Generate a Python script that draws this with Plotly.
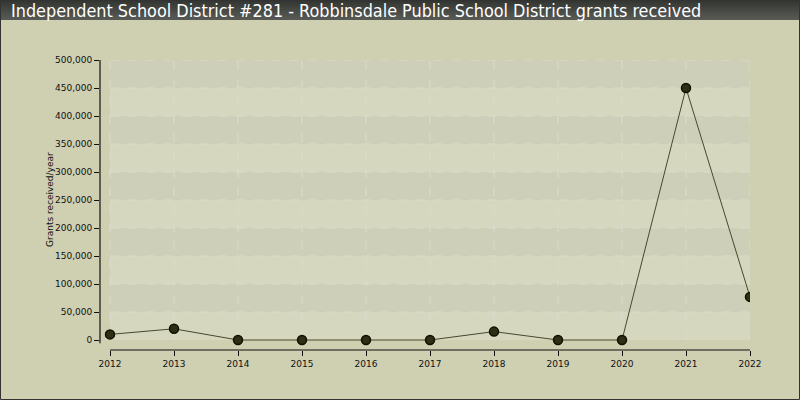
import plotly.graph_objects as go

years = [2012, 2013, 2014, 2015, 2016, 2017, 2018, 2019, 2020, 2021, 2022]
grants = [10000, 20000, 0, 0, 0, 0, 15000, 0, 0, 450000, 77000]
y_ticks = list(range(0, 500001, 50000))

title_text = "Independent School District #281 - Robbinsdale Public School District grants received"
y_title = "Grants received/year"

W, H = 800, 400
ML, MR, MT, MB = 100, 50, 60, 50
PW, PH = W - ML - MR, H - MT - MB

def px_x(px):
    return (px - ML) / PW

def px_y(py):
    return (H - MB - py) / PH

fig = go.Figure()

fig.add_trace(go.Scatter(
    x=years, y=grants, mode="lines+markers",
    line=dict(color="#48482f", width=1),
    marker=dict(size=9, color="#2e2e14", line=dict(color="#111100", width=1.5)),
    hoverinfo="x+y", showlegend=False,
))

shapes = []
for i in range(len(y_ticks) - 1):
    lo, hi = y_ticks[i], y_ticks[i + 1]
    light = (i % 2 == 0)
    shapes.append(dict(type="rect", xref="x", yref="y", x0=years[0], x1=years[-1], y0=lo, y1=hi,
                       fillcolor="#d5d7be" if light else "#cdcfb8", line=dict(width=0), layer="below"))
for yv in y_ticks[1:]:
    shapes.append(dict(type="line", xref="x", yref="y", x0=years[0], x1=years[-1], y0=yv, y1=yv,
                       line=dict(color="#dcdccd", width=1, dash="dash"), layer="below"))
for xv in years:
    shapes.append(dict(type="line", xref="x", yref="y", x0=xv, x1=xv, y0=0, y1=y_ticks[-1],
                       line=dict(color="#dcdccd", width=1, dash="dash"), layer="below"))
# axis lines
shapes.append(dict(type="line", xref="x", yref="paper", x0=years[0], x1=years[-1], y0=0, y1=0,
                   line=dict(color="#111111", width=1.2), layer="above"))
shapes.append(dict(type="line", xref="paper", yref="y", x0=0, x1=0, y0=-6000, y1=y_ticks[-1],
                   line=dict(color="#111111", width=1.2), layer="above"))
top_cols = ["#343632", "#383a36", "#3c3e3a", "#40423e", "#444642", "#484a46", "#4c4e4a", "#50524e",
            "#535551", "#565854"]
for k, c in enumerate(top_cols):
    shapes.append(dict(type="rect", xref="paper", yref="paper",
                       x0=px_x(0), x1=px_x(W), y0=px_y(2 * (k + 1)), y1=px_y(2 * k),
                       fillcolor=c, line=dict(width=0), layer="below"))
shapes.append(dict(type="rect", xref="paper", yref="paper", x0=px_x(0.5), x1=px_x(W - 0.5),
                   y0=px_y(H - 0.5), y1=px_y(0.5), line=dict(color="#333333", width=1), layer="above"))

fig.update_layout(
    width=W, height=H,
    margin=dict(l=ML, r=MR, t=MT, b=MB, pad=0),
    paper_bgcolor="#cfcfb1",
    plot_bgcolor="rgba(0,0,0,0)",
    shapes=shapes,
    font=dict(family="DejaVu Sans, Verdana, sans-serif", size=9, color="#111111"),
    annotations=[
        dict(text=title_text, xref="paper", yref="paper", x=px_x(9), y=px_y(10),
             xanchor="left", yanchor="middle", showarrow=False,
             font=dict(family="DejaVu Sans Condensed, DejaVu Sans, sans-serif", size=17.85, color="#ffffff")),
        dict(text=y_title, xref="paper", yref="paper", x=px_x(50), y=px_y(200),
             xanchor="center", yanchor="middle", showarrow=False, textangle=-90,
             font=dict(size=9, color="#111111")),
    ],
    xaxis=dict(
        range=[years[0] - 10 / 64, years[-1]],
        tickmode="array", tickvals=years, ticktext=[str(y) for y in years],
        showgrid=False, zeroline=False, showline=False,
        ticks="outside", ticklen=5, tickcolor="#111111", tickwidth=1.2, tickfont=dict(size=9),
        fixedrange=True,
    ),
    yaxis=dict(
        range=[-500000 * 10 / 280, 500000],
        tickmode="array", tickvals=y_ticks, ticktext=[f"{v:,}" for v in y_ticks],
        showgrid=False, zeroline=False, showline=False,
        ticks="outside", ticklen=5, tickcolor="#111111", tickwidth=1.2, tickfont=dict(size=9),
        fixedrange=True,
    ),
)

fig.write_html("out.html", config={"displayModeBar": False},
               post_script="document.body.style.margin='0';document.body.style.overflow='hidden';")
